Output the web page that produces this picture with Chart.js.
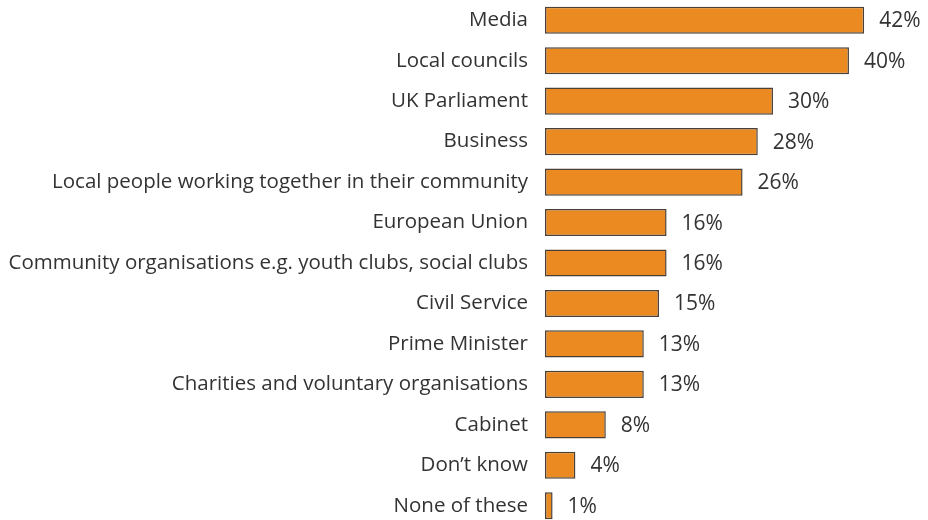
<!DOCTYPE html>
<html>
<head>
<meta charset="utf-8">
<script src="https://cdn.jsdelivr.net/npm/chart.js@4/dist/chart.umd.min.js"></script>
<style>
  html, body { margin: 0; padding: 0; background: #fff; overflow: hidden; }
  #wrap { position: relative; width: 928px; height: 526px; }
</style>
</head>
<body>
<div id="wrap"><canvas id="chart"></canvas></div>
<script>
// who is responsible - share of respondents
const categories = [
  'Media',
  'Local councils',
  'UK Parliament',
  'Business',
  'Local people working together in their community',
  'European Union',
  'Community organisations e.g. youth clubs, social clubs',
  'Civil Service',
  'Prime Minister',
  'Charities and voluntary organisations',
  'Cabinet',
  'Don\u2019t know',
  'None of these'
];
const percents = [42, 40, 30, 28, 26, 16, 16, 15, 13, 13, 8, 4, 1];

const FONT = '"Open Sans", "Noto Sans", sans-serif';

// value labels at the end of each bar
const barLabels = {
  id: 'barLabels',
  afterDatasetsDraw(chart) {
    const ctx = chart.ctx;
    const meta = chart.getDatasetMeta(0);
    ctx.save();
    ctx.font = '21px ' + FONT;
    ctx.fillStyle = '#333';
    ctx.textAlign = 'left';
    ctx.textBaseline = 'middle';
    meta.data.forEach((bar, i) => {
      ctx.fillText(percents[i] + '%', bar.x + 15, bar.y + 1);
    });
    ctx.restore();
  }
};

const chart = document.querySelector('#chart').getContext('2d');
new Chart(chart, {
  type: 'bar',
  data: {
    labels: categories,
    datasets: [{
      data: percents,
      backgroundColor: '#EA8A20',
      borderColor: '#4a4038',
      borderWidth: 1.5,
      borderSkipped: false,
      barPercentage: 0.67,
      categoryPercentage: 1
    }]
  },
  options: {
    indexAxis: 'y',
    responsive: true,
    maintainAspectRatio: false,
    animation: false,
    layout: { padding: 0 },
    plugins: {
      legend: { display: false },
      tooltip: { enabled: false }
    },
    scales: {
      x: {
        display: false,
        min: 0,
        max: 50.4
      },
      y: {
        grid: { display: false, drawTicks: false },
        border: { display: false },
        afterFit(scale) {
          // fixed label column, no extra room above/below the rows
          scale.width = 545;
          scale.paddingTop = 0;
          scale.paddingBottom = 0;
        },
        ticks: {
          padding: 17,
          color: '#333',
          font: { family: FONT, size: 20.5 }
        }
      }
    }
  },
  plugins: [barLabels]
});
</script>
</body>
</html>
